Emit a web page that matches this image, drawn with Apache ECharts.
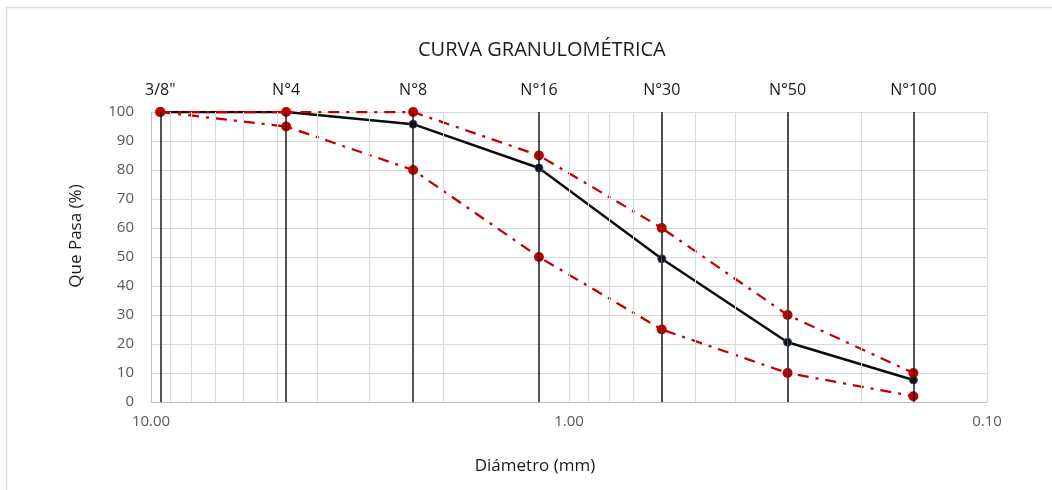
<!DOCTYPE html>
<html>
<head>
<meta charset="utf-8">
<title>Curva granulométrica</title>
<script src="https://cdn.jsdelivr.net/npm/echarts@6/dist/echarts.min.js"></script>
<style>
  html, body { margin: 0; padding: 0; background: #ffffff; }
  #chart { width: 1052px; height: 490px; }
</style>
</head>
<body>
<div id="chart"></div>
<script>
// Sieve designations and openings (mm)
const sieveNames = ['3/8"', 'N°4', 'N°8', 'N°16', 'N°30', 'N°50', 'N°100'];
const sieveSizes = [9.5, 4.75, 2.36, 1.18, 0.6, 0.3, 0.15];

// Percent passing: sample and specification band
const passing    = [100, 100, 95.8, 80.7, 49.4, 20.6, 7.6];
const upperLimit = [100, 100, 100, 85, 60, 30, 10];
const lowerLimit = [100, 95, 80, 50, 25, 10, 2];

// Log-scale grid lines: 1..9 within each decade between 0.1 and 10 mm
const decades = [0.1, 1];
const multipliers = [1, 2, 3, 4, 5, 6, 7, 8, 9];

const FONT = '"Open Sans", "Noto Sans", sans-serif';

const gridValues = [];
decades.forEach(d => multipliers.forEach(m => gridValues.push(+(d * m).toFixed(3))));

const pairs = vals => sieveSizes.map((s, i) => [s, vals[i]]);

const chart = echarts.init(document.getElementById('chart'), null, { renderer: 'canvas' });

chart.setOption({
  backgroundColor: '#ffffff',
  animation: false,
  title: {
    text: 'CURVA GRANULOMÉTRICA',
    left: 413,
    top: 35,
    textStyle: { fontFamily: FONT, fontSize: 20, fontWeight: 'normal', color: '#1a1a1a' }
  },
  graphic: [{
    type: 'rect',
    shape: { x: 6.5, y: 7.5, width: 1100, height: 600 },
    style: { fill: 'none', stroke: '#dedede', lineWidth: 1.5 },
    silent: true,
    z: -10
  }],
  grid: { left: 151, right: 65, top: 112, bottom: 88, containLabel: false },
  xAxis: {
    type: 'log',
    logBase: 10,
    min: 0.1,
    max: 10,
    inverse: true,
    name: 'Diámetro (mm)',
    nameLocation: 'middle',
    nameGap: 56,
    nameTextStyle: { fontFamily: FONT, fontSize: 17, color: '#1a1a1a', padding: [0, 68, 0, 0] },
    axisLine: { show: true, onZero: false, lineStyle: { color: '#bfbfbf', width: 1 } },
    axisTick: { show: false },
    splitLine: { show: false },
    axisLabel: {
      fontFamily: FONT, fontSize: 15, color: '#595959', margin: 12,
      formatter: v => Number(v).toFixed(2)
    }
  },
  yAxis: {
    type: 'value',
    min: 0,
    max: 100,
    interval: 10,
    name: 'Que Pasa (%)',
    nameLocation: 'middle',
    nameRotate: 90,
    nameGap: 66,
    nameTextStyle: { fontFamily: FONT, fontSize: 17, color: '#1a1a1a', padding: [0, 0, 0, 42] },
    axisLine: { show: true, lineStyle: { color: '#bfbfbf', width: 1 } },
    axisTick: { show: false },
    splitLine: { show: true, lineStyle: { color: '#d9d9d9', width: 1 } },
    axisLabel: { fontFamily: FONT, fontSize: 15, color: '#595959', margin: 17 }
  },
  series: [
    {
      // light log grid lines
      name: 'grid',
      type: 'line',
      data: [],
      silent: true,
      z: 1,
      markLine: {
        silent: true,
        symbol: ['none', 'none'],
        label: { show: false },
        lineStyle: { color: '#d9d9d9', width: 1, type: 'solid' },
        data: gridValues.map(v => ({ xAxis: v }))
      }
    },
    {
      // sieve verticals with designations on top
      name: 'tamices',
      type: 'line',
      data: [],
      silent: true,
      z: 2,
      markLine: {
        silent: true,
        symbol: ['none', 'none'],
        lineStyle: { color: '#1a1a1a', width: 1.5, type: 'solid' },
        label: {
          show: true,
          position: 'end',
          distance: 14,
          fontFamily: FONT,
          fontSize: 16,
          color: '#1a1a1a',
          formatter: p => p.name
        },
        data: sieveSizes.map((s, i) => ({ xAxis: s, name: sieveNames[i] }))
      }
    },
    {
      name: 'Muestra',
      type: 'line',
      data: pairs(passing),
      z: 3,
      symbol: 'circle',
      symbolSize: 8,
      lineStyle: { color: '#0d0d0d', width: 2.5 },
      itemStyle: { color: '#0d0d0d', borderColor: '#2f4a78', borderWidth: 1 }
    },
    {
      name: 'Límite superior',
      type: 'line',
      data: pairs(upperLimit),
      z: 4,
      symbol: 'circle',
      symbolSize: 10,
      lineStyle: { color: '#c00000', width: 2.25, type: [11, 7, 3, 7] },
      itemStyle: { color: '#c00000' }
    },
    {
      name: 'Límite inferior',
      type: 'line',
      data: pairs(lowerLimit),
      z: 4,
      symbol: 'circle',
      symbolSize: 10,
      lineStyle: { color: '#c00000', width: 2.25, type: [11, 7, 3, 7] },
      itemStyle: { color: '#c00000' }
    }
  ]
});
</script>
</body>
</html>
